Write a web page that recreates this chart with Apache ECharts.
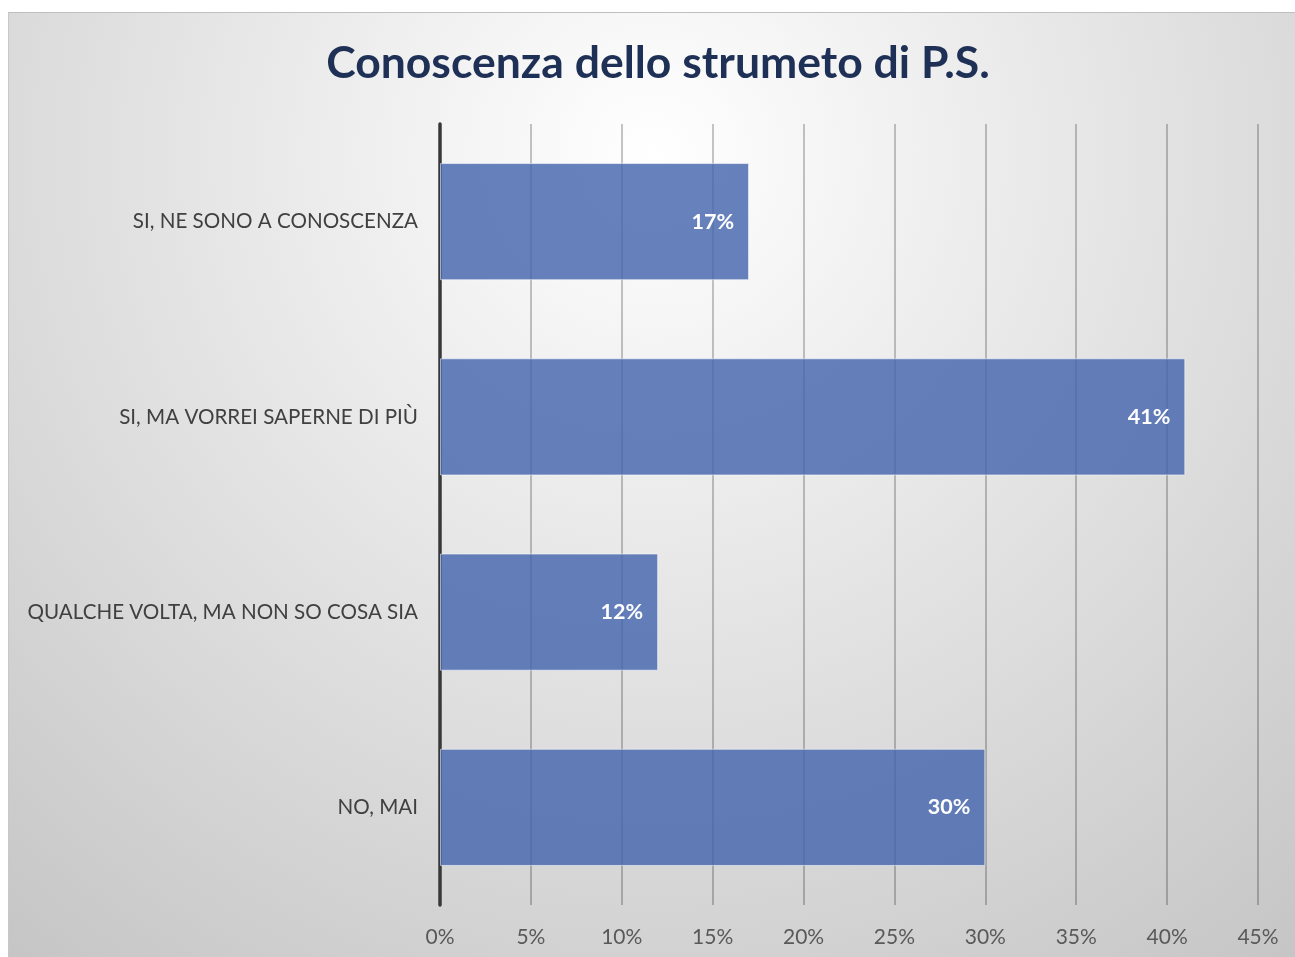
<!DOCTYPE html>
<html>
<head>
<meta charset="utf-8">
<script src="https://cdn.jsdelivr.net/npm/echarts@6/dist/echarts.min.js"></script>
<style>
  html, body { margin: 0; padding: 0; background: #ffffff; }
  #chart {
    position: absolute; left: 8px; top: 12px; width: 1287px; height: 945px;
    border-top: 1px solid #bfbfbf; border-left: 1px solid #c8c8c8;
  }
</style>
</head>
<body>
<div id="chart"></div>
<script>
// Survey answers, top to bottom
const categories = [
  'SI, NE SONO A CONOSCENZA',
  'SI, MA VORREI SAPERNE DI PIÙ',
  'QUALCHE VOLTA, MA NON SO COSA SIA',
  'NO, MAI'
];
// Share of respondents (%)
const shares = [17, 41, 12, 30];
// Value axis range and step (%)
const axisMax = 45;
const axisStep = 5;

const chart = echarts.init(document.getElementById('chart'), null, { renderer: 'canvas' });

chart.setOption({
  backgroundColor: {
    type: 'radial', x: 0.5, y: 0.15, r: 1.15,
    colorStops: [
      { offset: 0, color: '#ffffff' },
      { offset: 1, color: '#c2c2c2' }
    ]
  },
  title: {
    text: 'Conoscenza dello strumeto di P.S.',
    left: 644, top: 23, textAlign: 'center',
    textStyle: { fontFamily: 'Lato', fontWeight: 'bold', fontSize: 44.5, color: '#1f3056' }
  },
  grid: { left: 431, right: 38, top: 111, bottom: 53, containLabel: false },
  xAxis: {
    type: 'value', min: 0, max: axisMax, interval: axisStep,
    axisLine: { show: false }, axisTick: { show: false },
    axisLabel: {
      formatter: v => v + '%', margin: 22,
      fontFamily: 'Lato', fontSize: 21, color: '#595959'
    },
    splitLine: { show: true, lineStyle: { color: 'rgba(0,0,0,0.3)', width: 1.5 } }
  },
  yAxis: {
    type: 'category', data: categories, inverse: true,
    axisLine: { show: true, lineStyle: { color: '#383838', width: 3.5 } },
    axisTick: { show: false },
    axisLabel: { margin: 22, fontFamily: 'Lato', fontSize: 20.6, color: '#404040' }
  },
  series: [{
    type: 'bar', data: shares, barCategoryGap: '40%',
    itemStyle: { color: 'rgba(70,101,174,0.82)', borderColor: 'rgba(255,255,255,0.55)', borderWidth: 1 },
    label: {
      show: true, position: 'insideRight', distance: 15,
      formatter: p => p.value + '%',
      fontFamily: 'Lato', fontWeight: 'bold', fontSize: 21.5, color: '#ffffff'
    },
    emphasis: { disabled: true }
  }],
  animation: false
});
</script>
</body>
</html>
